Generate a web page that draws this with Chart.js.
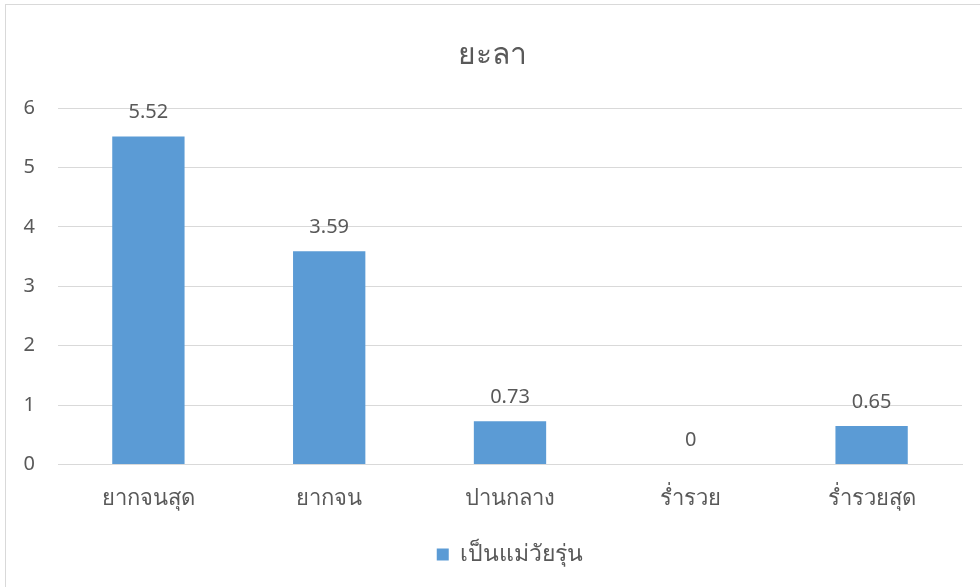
<!DOCTYPE html>
<html>
<head>
<meta charset="utf-8">
<script src="https://cdn.jsdelivr.net/npm/chart.js@4"></script>
<style>
    body { margin: 0; background: #fff; }
    #wrap { position: relative; width: 980px; height: 587px; }
    #frame { position: absolute; left: 5px; top: 4px; width: 990px; height: 600px; border: 1px solid #d9d9d9; box-sizing: border-box; }
    canvas { position: absolute; left: 0; top: 0; }
</style>
</head>
<body>
<div id="wrap">
    <div id="frame"></div>
    <canvas id="chart" width="980" height="587"></canvas>
</div>
<script>
const chartTitle = 'ยะลา';
const categories = ['ยากจนสุด', 'ยากจน', 'ปานกลาง', 'ร่ำรวย', 'ร่ำรวยสุด'];
const seriesName = 'เป็นแม่วัยรุ่น';
const seriesValues = [5.52, 3.59, 0.73, 0, 0.65];
const yTicks = [0, 1, 2, 3, 4, 5, 6];

const fontFamily = "'Noto Sans', 'DejaVu Sans', sans-serif";
const textColor = '#595959';

// draws the value above each bar
const valueLabels = {
    id: 'valueLabels',
    afterDatasetsDraw(chart) {
        const ctx = chart.ctx;
        ctx.save();
        ctx.font = '20px ' + fontFamily;
        ctx.fillStyle = textColor;
        ctx.textAlign = 'center';
        ctx.textBaseline = 'middle';
        chart.data.datasets.forEach((ds, di) => {
            const meta = chart.getDatasetMeta(di);
            meta.data.forEach((bar, i) => {
                ctx.fillText(String(ds.data[i]), bar.x, bar.y - 24);
            });
        });
        ctx.restore();
    },
};

const ctx = document.getElementById('chart');
const myChart = new Chart(ctx, {
    type: 'bar',
    data: {
        labels: categories,
        datasets: [
            {
                label: seriesName,
                data: seriesValues,
                backgroundColor: '#5B9BD5',
                categoryPercentage: 1,
                barPercentage: 0.4,
            },
        ],
    },
    plugins: [valueLabels],
    options: {
        responsive: false,
        animation: false,
        layout: { padding: { top: 7, right: 18, bottom: 11, left: 22 } },
        plugins: {
            title: {
                display: true,
                text: chartTitle,
                color: textColor,
                font: { family: fontFamily, size: 30, weight: 'normal' },
                padding: { top: 30, bottom: 35 },
            },
            legend: {
                position: 'bottom',
                fullSize: false,
                labels: {
                    color: textColor,
                    font: { family: fontFamily, size: 23 },
                    boxWidth: 12,
                    boxHeight: 12,
                    padding: 10,
                },
            },
            tooltip: { enabled: false },
        },
        scales: {
            x: {
                grid: { display: false, drawTicks: false },
                border: { color: '#d9d9d9', width: 1 },
                ticks: {
                    color: textColor,
                    font: { family: fontFamily, size: 22 },
                    padding: 21,
                    maxRotation: 0,
                },
            },
            y: {
                min: 0,
                max: 6,
                afterBuildTicks(axis) {
                    axis.ticks = yTicks.map((v) => ({ value: v }));
                },
                afterFit(axis) {
                    axis.width = 36;
                },
                grid: { color: '#d9d9d9', drawTicks: false },
                border: { display: false },
                ticks: {
                    color: textColor,
                    font: { family: fontFamily, size: 20 },
                    padding: 23,
                },
            },
        },
    },
});
</script>
</body>
</html>
